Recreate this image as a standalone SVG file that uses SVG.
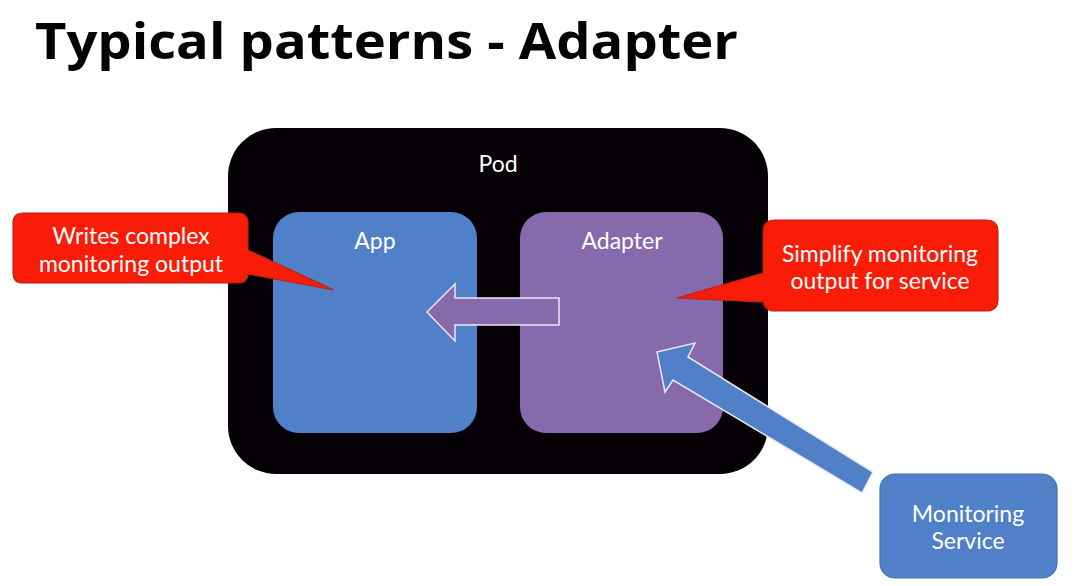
<svg xmlns="http://www.w3.org/2000/svg" width="1086" height="586" viewBox="0 0 1086 586">
<style>
.lbl{font-family:Lato,"Open Sans","Liberation Sans",sans-serif;fill:#fff;text-anchor:middle;font-size:23px}
.callout{fill:#FA1C06;stroke:#B8241A;stroke-width:1.2}
.arrow{stroke:#EDE6F5;stroke-width:1.5;stroke-linejoin:miter}
</style>
<rect width="1086" height="586" fill="#fff"/>
<text x="35" y="59" font-family="Open Sans,DejaVu Sans,sans-serif" font-weight="700" font-size="51" fill="#050205" textLength="703" lengthAdjust="spacingAndGlyphs">Typical patterns - Adapter</text>
<g id="pod">
<rect x="228" y="128" width="540" height="346" rx="48" fill="#040006"/>
<text class="lbl" x="498" y="172">Pod</text>
</g>
<g id="app">
<rect x="273" y="212" width="204" height="221" rx="26" fill="#5080C8"/>
<text class="lbl" x="375" y="249">App</text>
</g>
<g id="adapter">
<rect x="520" y="212" width="203" height="221" rx="26" fill="#876AAC"/>
<text class="lbl" x="622" y="249">Adapter</text>
</g>
<g id="connectors">
<path class="arrow" fill="#876AAC" d="M427,312 L455,284 L455,298 L559,298 L559,325 L455,325 L455,341 Z"/>
<path class="arrow" fill="#5080C8" d="M657,352 L695,343 L688,357 L873,472 L862,493 L673,380 L665,392 Z"/>
</g>
<g id="callout-left">
<path class="callout" d="M23,213 H238 Q248,213 248,223 V250 L334,290 L248,274 V273 Q248,283 238,283 H23 Q13,283 13,273 V223 Q13,213 23,213 Z"/>
<text class="lbl" x="131" y="244">Writes complex</text>
<text class="lbl" x="131" y="272">monitoring output</text>
</g>
<g id="callout-right">
<path class="callout" d="M775,220 H986 Q998,220 998,232 V299 Q998,311 986,311 H775 Q763,311 763,299 V302 L677,298 L763,273 V232 Q763,220 775,220 Z"/>
<text class="lbl" x="880" y="262">Simplify monitoring</text>
<text class="lbl" x="880" y="289">output for service</text>
</g>
<g id="monitoring-service">
<rect x="880" y="474" width="177" height="104" rx="15" fill="#5080C8" stroke="#4470A8" stroke-width="1.2"/>
<text class="lbl" x="968" y="522">Monitoring</text>
<text class="lbl" x="968" y="549">Service</text>
</g>
</svg>
